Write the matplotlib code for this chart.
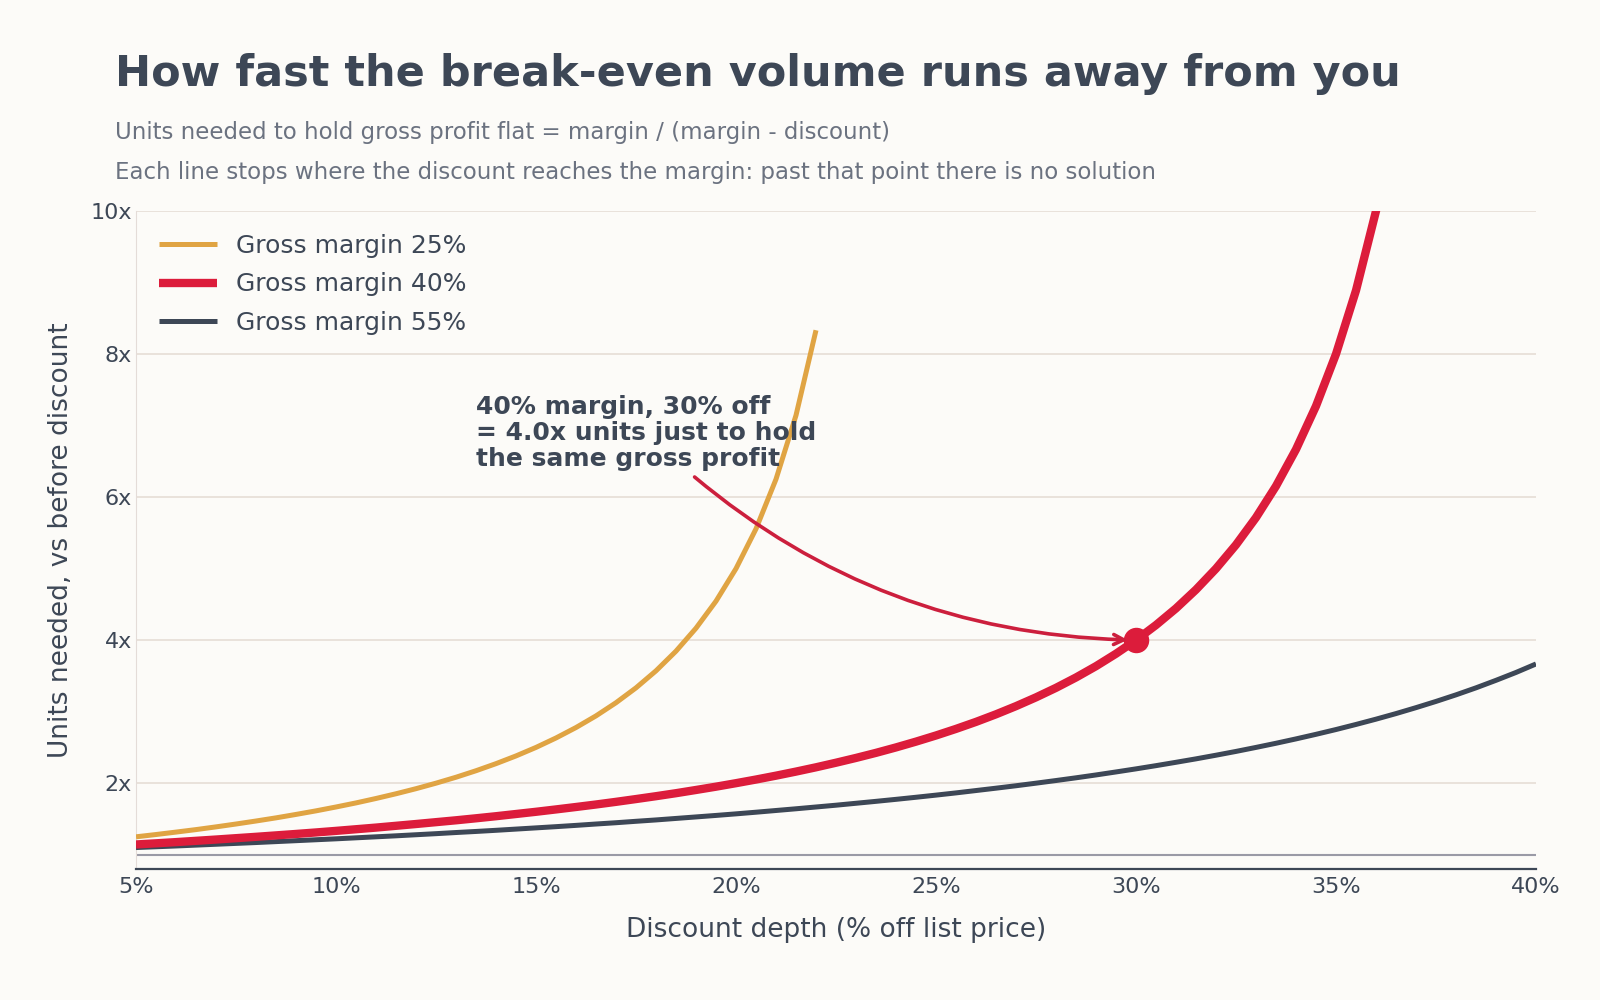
import numpy as np
import matplotlib
matplotlib.use("Agg")
import matplotlib.pyplot as plt
from matplotlib.ticker import FuncFormatter

# discount depth, % off list price (half-point steps)
disc_25 = np.arange(5.0, 22.01, 0.5)
disc_40 = np.arange(5.0, 37.01, 0.5)
disc_55 = np.arange(5.0, 40.01, 0.5)

# units needed vs before discount
units_25 = [1.25, 1.282, 1.316, 1.351, 1.389, 1.429, 1.471, 1.515, 1.563, 1.613,
            1.667, 1.724, 1.786, 1.852, 1.923, 2.0, 2.083, 2.174, 2.273, 2.381,
            2.5, 2.632, 2.778, 2.941, 3.125, 3.333, 3.571, 3.846, 4.167, 4.545,
            5.0, 5.556, 6.25, 7.143, 8.333]
units_40 = [1.143, 1.159, 1.176, 1.194, 1.212, 1.231, 1.25, 1.27, 1.29, 1.311,
            1.333, 1.356, 1.379, 1.404, 1.429, 1.455, 1.481, 1.509, 1.538, 1.569,
            1.6, 1.633, 1.667, 1.702, 1.739, 1.778, 1.818, 1.86, 1.905, 1.951,
            2.0, 2.051, 2.105, 2.162, 2.222, 2.286, 2.353, 2.424, 2.5, 2.581,
            2.667, 2.759, 2.857, 2.963, 3.077, 3.2, 3.333, 3.478, 3.636, 3.81,
            4.0, 4.211, 4.444, 4.706, 5.0, 5.333, 5.714, 6.154, 6.667, 7.273,
            8.0, 8.889, 10.0, 11.43, 13.33]
units_55 = [1.1, 1.111, 1.122, 1.134, 1.146, 1.158, 1.17, 1.183, 1.196, 1.209,
            1.222, 1.236, 1.25, 1.264, 1.279, 1.294, 1.31, 1.325, 1.341, 1.358,
            1.375, 1.392, 1.41, 1.429, 1.447, 1.467, 1.486, 1.507, 1.528, 1.549,
            1.571, 1.594, 1.618, 1.642, 1.667, 1.692, 1.719, 1.746, 1.774, 1.803,
            1.833, 1.864, 1.897, 1.93, 1.964, 2.0, 2.037, 2.075, 2.115, 2.157,
            2.2, 2.245, 2.292, 2.34, 2.391, 2.444, 2.5, 2.558, 2.619, 2.683,
            2.75, 2.821, 2.895, 2.973, 3.056, 3.143, 3.235, 3.333, 3.438, 3.548,
            3.667]

labels = ["Gross margin 25%", "Gross margin 40%", "Gross margin 55%"]
x_ticks = [5, 10, 15, 20, 25, 30, 35, 40]
y_ticks = [2, 4, 6, 8, 10]
callout_x, callout_y = 30, 4.0

BG = "#fcfbf8"
INK = "#3d4756"
MUTED = "#6b7280"
GOLD = "#e0a443"
RED = "#dc1c3b"
GRID = "#e6ddd6"

plt.rcParams["font.family"] = ["DejaVu Sans"]

fig = plt.figure(figsize=(16, 10), dpi=100, facecolor=BG)
ax = fig.add_axes([0.085, 0.131, 0.875, 0.658])
ax.set_facecolor(BG)

ax.plot(disc_25, units_25, color=GOLD, lw=3.6, label=labels[0], zorder=3,
        solid_capstyle="butt")
ax.plot(disc_40, units_40, color=RED, lw=6.0, label=labels[1], zorder=4,
        solid_capstyle="butt")
ax.plot(disc_55, units_55, color=INK, lw=3.6, label=labels[2], zorder=3,
        solid_capstyle="butt")

ax.axhline(1.0, color="#9a9aa6", lw=1.5, zorder=2)
ax.scatter([callout_x], [callout_y], s=300, color=RED, zorder=6)

ax.annotate("40% margin, 30% off\n= 4.0x units just to hold\nthe same gross profit",
            xy=(callout_x, callout_y), xytext=(13.5, 6.9),
            fontsize=18, fontweight="bold", color=INK, va="center", ha="left",
            linespacing=1.1,
            arrowprops=dict(arrowstyle="->", color="#cc1f3d", lw=2.6,
                            connectionstyle="arc3,rad=0.2",
                            shrinkA=4, shrinkB=6, mutation_scale=18),
            zorder=7)

ax.set_xlim(5, 40)
ax.set_ylim(0.8, 10)
ax.set_xticks(x_ticks)
ax.set_yticks(y_ticks)
ax.xaxis.set_major_formatter(FuncFormatter(lambda v, p: f"{v:.0f}%"))
ax.yaxis.set_major_formatter(FuncFormatter(lambda v, p: f"{v:.0f}x"))
ax.grid(axis="y", color=GRID, lw=1.2, zorder=0)
ax.tick_params(axis="both", colors=INK, labelsize=16, length=0)
ax.tick_params(axis="x", pad=6)
ax.tick_params(axis="y", pad=3)
for side in ("top", "right"):
    ax.spines[side].set_visible(False)
ax.spines["left"].set_color("#e4dcd8")
ax.spines["bottom"].set_color(INK)
ax.spines["bottom"].set_linewidth(1.6)

ax.set_xlabel("Discount depth (% off list price)", color=INK, fontsize=19,
              labelpad=14)
ax.set_ylabel("Units needed, vs before discount", color=INK, fontsize=19,
              labelpad=12)

leg = ax.legend(loc="upper left", frameon=False, fontsize=18,
                handlelength=2.3, handletextpad=0.8, labelspacing=0.58,
                borderaxespad=0.52)
for t in leg.get_texts():
    t.set_color(INK)

fig.text(0.072, 0.926, "How fast the break-even volume runs away from you",
         fontsize=31, fontweight="bold", color=INK, ha="left", va="center")
fig.text(0.072, 0.867, "Units needed to hold gross profit flat = margin / (margin - discount)",
         fontsize=16.5, color=MUTED, ha="left", va="center")
fig.text(0.072, 0.827, "Each line stops where the discount reaches the margin: "
         "past that point there is no solution",
         fontsize=16.5, color=MUTED, ha="left", va="center")

fig.savefig("out.png", dpi=100, facecolor=fig.get_facecolor())
